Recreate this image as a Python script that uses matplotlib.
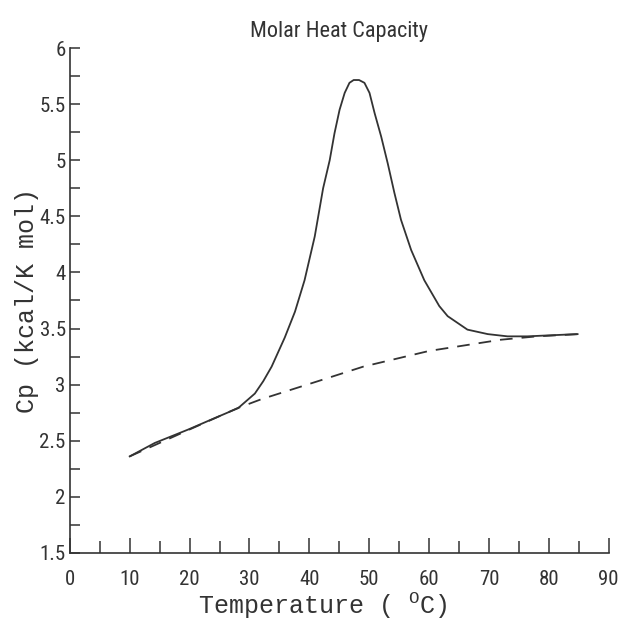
import matplotlib
matplotlib.use("Agg")
from matplotlib import pyplot as plt
from matplotlib import font_manager
from matplotlib.ticker import MultipleLocator

# solid curve: measured molar heat capacity
temp = [10, 14.2, 19.8, 23.7, 28.1, 30.9, 32.3, 33.7, 35.9, 37.6, 39.2, 40.9,
        42.3, 43.4, 44.2, 45.05, 45.9, 46.7, 47.4, 48.3, 49.2, 50.05, 50.9,
        52.0, 53.1, 54.2, 55.3, 57.0, 59.2, 61.7, 63.1, 66.4, 69.8, 73.1,
        76.4, 80.5, 84.8]
cp = [2.36, 2.48, 2.60, 2.69, 2.79, 2.92, 3.03, 3.16, 3.42, 3.65, 3.93, 4.32,
      4.75, 5.00, 5.24, 5.45, 5.60, 5.69, 5.715, 5.715, 5.69, 5.60, 5.42,
      5.21, 4.97, 4.71, 4.47, 4.20, 3.93, 3.70, 3.61, 3.49, 3.45, 3.43,
      3.43, 3.44, 3.45]

# dashed curve: baseline
base_t = [10, 20, 28, 32, 42, 49, 60, 72, 78, 85]
base_cp = [2.36, 2.60, 2.79, 2.87, 3.04, 3.16, 3.30, 3.40, 3.43, 3.45]

xticks = list(range(0, 100, 10))
yticks = [1.5, 2, 2.5, 3, 3.5, 4, 4.5, 5, 5.5, 6]
ytick_labels = ['1.5', '2', '2.5', '3', '3.5', '4', '4.5', '5', '5.5', '6']

names = set(f.name for f in font_manager.fontManager.ttflist)
mono = "Liberation Mono"
narrow = "DejaVu Sans"
for cand in ["Liberation Sans Narrow", "Roboto Condensed", "Open Sans Condensed"]:
    if cand in names:
        narrow = cand
        break

plt.rcParams['mathtext.fontset'] = 'custom'
plt.rcParams['mathtext.rm'] = mono

fig = plt.figure(figsize=(6.18, 6.24), dpi=100)
ax = fig.add_axes([0.113, 0.114, 0.872, 0.809])

ax.plot(temp, cp, color="#333333", lw=1.3, solid_joinstyle='round')
ax.plot(base_t, base_cp, color="#333333", lw=1.3, linestyle=(0, (7, 5)))

ax.set_xlim(0, 90)
ax.set_ylim(1.5, 6)
ax.spines['top'].set_visible(False)
ax.spines['right'].set_visible(False)
for s in ['left', 'bottom']:
    ax.spines[s].set_color("#333333")
    ax.spines[s].set_linewidth(1.2)

ax.set_xticks(xticks)
ax.set_xticklabels([str(v) for v in xticks])
ax.xaxis.set_minor_locator(MultipleLocator(5))
ax.set_yticks(yticks)
ax.set_yticklabels(ytick_labels)
ax.yaxis.set_minor_locator(MultipleLocator(0.25))
ax.tick_params(axis='x', which='major', direction='in', length=11, width=1.1, color="#333333", pad=12)
ax.tick_params(axis='x', which='minor', direction='in', length=9, width=1.1, color="#333333")
ax.tick_params(axis='y', which='both', direction='in', length=7, width=1.1, color="#333333", pad=3)

for lab in ax.get_xticklabels() + ax.get_yticklabels():
    lab.set_fontfamily(narrow)
    lab.set_fontsize(15)
    lab.set_color("#333333")

ax.set_title("Molar Heat Capacity", family=narrow, fontsize=16, color="#333333", pad=8)
ax.set_xlabel(r"Temperature ( $^{\rm O}$C)", family=mono, fontsize=18, color="#333333")
ax.xaxis.set_label_coords(0.47, -0.075)
ax.set_ylabel("Cp (kcal/K mol)", family=mono, fontsize=18, color="#333333", labelpad=0)

fig.savefig("out.png", dpi=100)
